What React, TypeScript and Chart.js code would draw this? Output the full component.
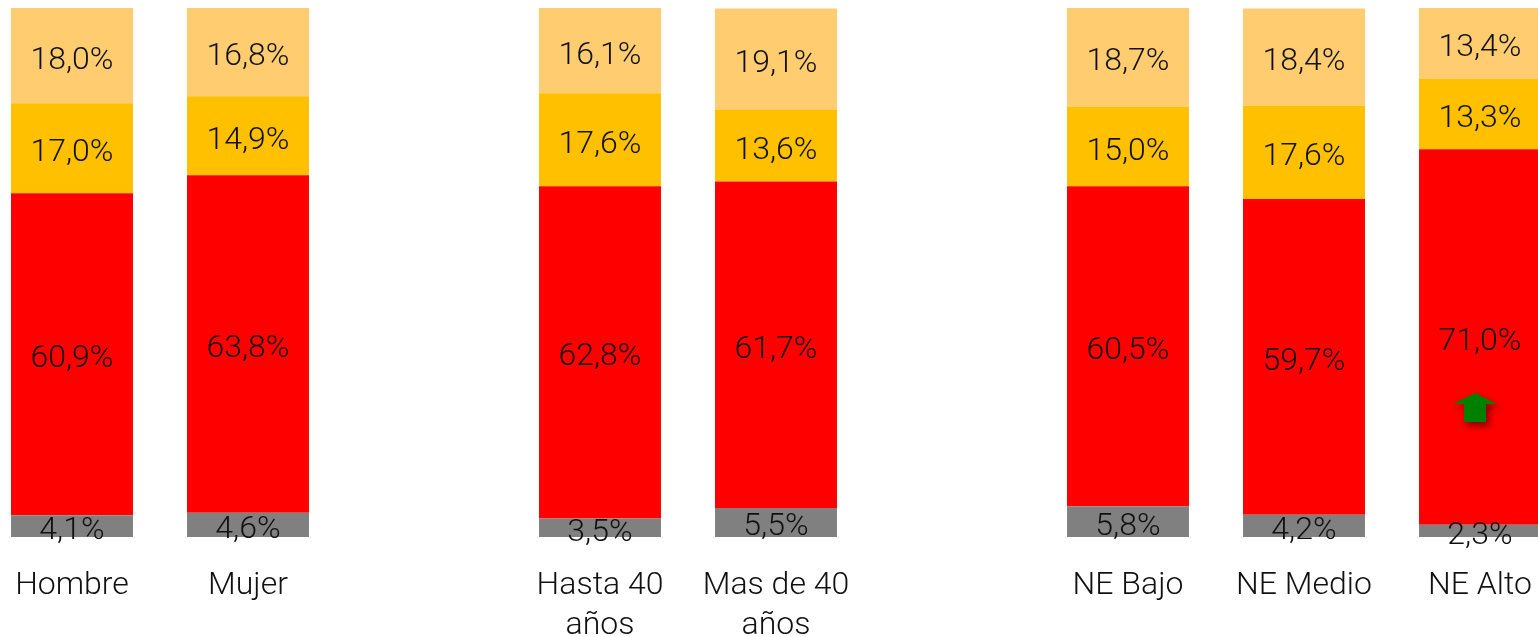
import React, { useEffect, useRef } from "react";
import { Chart, registerables } from "chart.js";

Chart.register(...registerables);

const categories: (string | string[])[] = [
  "Hombre",
  "Mujer",
  "",
  ["Hasta 40", "años"],
  ["Mas de 40", "años"],
  "",
  "NE Bajo",
  "NE Medio",
  "NE Alto",
];

const grayValues = [4.1, 4.6, null, 3.5, 5.5, null, 5.8, 4.2, 2.3];
const redValues = [60.9, 63.8, null, 62.8, 61.7, null, 60.5, 59.7, 71.0];
const goldValues = [17.0, 14.9, null, 17.6, 13.6, null, 15.0, 17.6, 13.3];
const lightValues = [18.0, 16.8, null, 16.1, 19.1, null, 18.7, 18.4, 13.4];

const seriesColors = ["#808080", "#FF0000", "#FFC000", "#FFCD6F"];

const arrowCategoryIndex = 8;
const arrowValue = 24.4;

const FONT = "Roboto, 'DejaVu Sans', sans-serif";

const labelPlugin = {
  id: "segmentLabels",
  afterDatasetsDraw(chart: any) {
    const ctx = chart.ctx;
    ctx.save();
    ctx.font = `300 32px ${FONT}`;
    ctx.fillStyle = "#111111";
    ctx.textAlign = "center";
    ctx.textBaseline = "middle";
    chart.data.datasets.forEach((ds: any, di: number) => {
      const meta = chart.getDatasetMeta(di);
      meta.data.forEach((el: any, i: number) => {
        const v = ds.data[i];
        if (v === null || v === undefined) return;
        const y = (el.y + el.base) / 2 + 5;
        ctx.fillText(v.toFixed(1).replace(".", ",") + "%", el.x, y);
      });
    });
    ctx.restore();
  },
};

const arrowPlugin = {
  id: "greenArrow",
  afterDatasetsDraw(chart: any) {
    const ctx = chart.ctx;
    const xs = chart.scales.x;
    const ys = chart.scales.y;
    const cx = xs.getPixelForValue(arrowCategoryIndex) - 5;
    const cy = ys.getPixelForValue(arrowValue);
    ctx.save();
    ctx.shadowColor = "rgba(90,0,0,0.75)";
    ctx.shadowBlur = 7;
    ctx.shadowOffsetX = 3;
    ctx.shadowOffsetY = 4;
    ctx.fillStyle = "#008000";
    ctx.beginPath();
    ctx.moveTo(cx, cy - 15);
    ctx.lineTo(cx + 22, cy - 4);
    ctx.lineTo(cx + 11, cy - 4);
    ctx.lineTo(cx + 11, cy + 14);
    ctx.lineTo(cx - 11, cy + 14);
    ctx.lineTo(cx - 11, cy - 4);
    ctx.lineTo(cx - 22, cy - 4);
    ctx.closePath();
    ctx.fill();
    ctx.restore();
  },
};

export default function App() {
  const ref = useRef<HTMLCanvasElement | null>(null);

  useEffect(() => {
    if (!ref.current) return;
    const chart = new Chart(ref.current, {
      type: "bar",
      data: {
        labels: categories as any,
        datasets: [
          { label: "g", data: grayValues, backgroundColor: seriesColors[0] },
          { label: "r", data: redValues, backgroundColor: seriesColors[1] },
          { label: "o", data: goldValues, backgroundColor: seriesColors[2] },
          { label: "l", data: lightValues, backgroundColor: seriesColors[3] },
        ] as any,
      },
      options: {
        animation: false,
        responsive: false,
        layout: { padding: { top: 8, left: 0, right: 0, bottom: 0 } },
        datasets: {
          bar: { categoryPercentage: 1, barPercentage: 0.693, borderWidth: 0 },
        } as any,
        plugins: {
          legend: { display: false },
          tooltip: { enabled: false },
        },
        scales: {
          x: {
            stacked: true,
            grid: { display: false },
            border: { display: false },
            ticks: {
              autoSkip: false,
              maxRotation: 0,
              minRotation: 0,
              padding: 21,
              color: "#111111",
              font: { family: FONT, size: 32, weight: "300", lineHeight: 1.25 } as any,
            },
            afterFit(scale: any) {
              scale.height = 100;
            },
          },
          y: {
            stacked: true,
            display: false,
            min: 0,
            max: 100,
          },
        },
      },
      plugins: [labelPlugin, arrowPlugin],
    });
    return () => chart.destroy();
  }, []);

  return (
    <div
      style={{
        position: "fixed",
        left: 0,
        top: 0,
        width: 1538,
        height: 637,
        overflow: "hidden",
        background: "#ffffff",
      }}
    >
      <canvas
        ref={ref}
        width={1584}
        height={637}
        style={{ position: "absolute", left: -16, top: 0, width: 1584, height: 637 }}
      />
    </div>
  );
}
